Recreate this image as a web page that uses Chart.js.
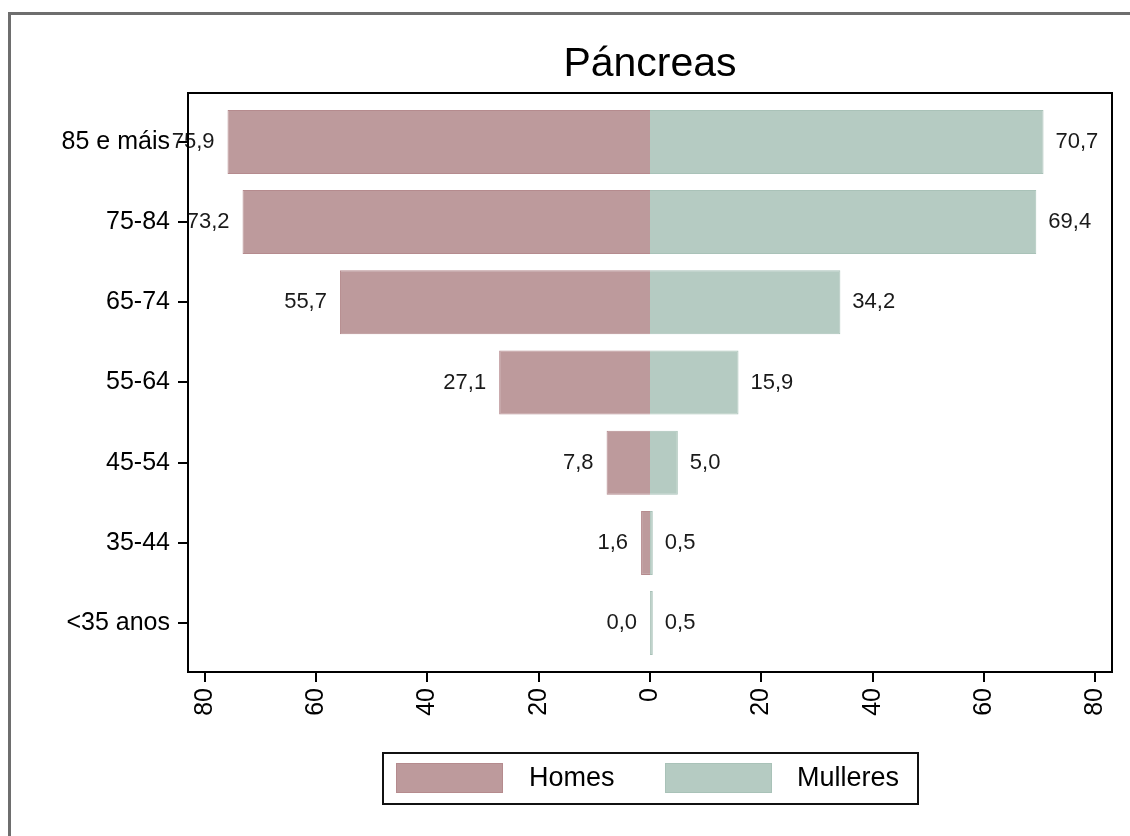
<!DOCTYPE html>
<html>
<head>
<meta charset="utf-8">
<title>Páncreas</title>
<script src="https://cdn.jsdelivr.net/npm/chart.js@4/dist/chart.umd.min.js"></script>
<style>
  html, body { margin: 0; padding: 0; background: #fff; }
  #wrap { width: 1130px; height: 836px; position: relative; }
</style>
</head>
<body>
<div id="wrap"><canvas id="pyramid" width="1130" height="836"></canvas></div>
<script>
// age groups, top to bottom
const groups = ['85 e máis', '75-84', '65-74', '55-64', '45-54', '35-44', '<35 anos'];
const homes = [75.9, 73.2, 55.7, 27.1, 7.8, 1.6, 0.0];
const mulleres = [70.7, 69.4, 34.2, 15.9, 5.0, 0.5, 0.5];
const xTicks = [-80, -60, -40, -20, 0, 20, 40, 60, 80];

const FONT = '"Liberation Sans", Arial, sans-serif';

function fmt(v) {
  return v.toFixed(1).replace('.', ',');
}

// frame, title, plot box, legend
const decor = {
  id: 'decor',
  beforeDraw(chart) {
    const ctx = chart.ctx;
    ctx.save();
    ctx.fillStyle = '#fff';
    ctx.fillRect(0, 0, chart.width, chart.height);
    ctx.strokeStyle = '#6e6e6e';
    ctx.lineWidth = 3;
    ctx.strokeRect(9.5, 13.5, 1200, 900);
    ctx.restore();
  },
  afterDraw(chart) {
    const ctx = chart.ctx;
    const a = chart.chartArea;
    ctx.save();
    ctx.strokeStyle = '#000';
    ctx.lineWidth = 2;
    ctx.strokeRect(a.left, a.top, a.right - a.left, a.bottom - a.top);

    ctx.fillStyle = '#000';
    ctx.font = '41px ' + FONT;
    ctx.textAlign = 'center';
    ctx.textBaseline = 'middle';
    ctx.fillText('Páncreas', (a.left + a.right) / 2, 65);

    // legend
    ctx.lineWidth = 2;
    ctx.strokeStyle = '#111';
    ctx.strokeRect(383, 753, 535, 51);
    const items = [
      { x: 396, tx: 529 },
      { x: 665, tx: 797 }
    ];
    chart.data.datasets.forEach(function (ds, i) {
      const it = items[i];
      ctx.fillStyle = ds.backgroundColor;
      ctx.fillRect(it.x, 763, 107, 30);
      ctx.strokeStyle = ds.borderColor;
      ctx.lineWidth = 1;
      ctx.strokeRect(it.x + 0.5, 763.5, 106, 29);
      ctx.fillStyle = '#000';
      ctx.font = '27px ' + FONT;
      ctx.textAlign = 'left';
      ctx.textBaseline = 'middle';
      ctx.fillText(ds.label, it.tx, 779);
    });
    ctx.restore();
  }
};

// value labels next to the bar ends
const valueLabels = {
  id: 'valueLabels',
  afterDatasetsDraw(chart) {
    const ctx = chart.ctx;
    ctx.save();
    ctx.font = '22px ' + FONT;
    ctx.fillStyle = '#1a1a1a';
    ctx.textBaseline = 'middle';
    chart.data.datasets.forEach(function (ds, di) {
      const meta = chart.getDatasetMeta(di);
      meta.data.forEach(function (bar, i) {
        const v = di === 0 ? homes[i] : mulleres[i];
        if (di === 0) {
          ctx.textAlign = 'right';
          ctx.fillText(fmt(v), bar.x - 13, bar.y);
        } else {
          ctx.textAlign = 'left';
          ctx.fillText(fmt(v), bar.x + 12, bar.y);
        }
      });
    });
    ctx.restore();
  }
};

const ctx = document.getElementById('pyramid').getContext('2d');
new Chart(ctx, {
  type: 'bar',
  data: {
    datasets: [{
      label: 'Homes',
      data: homes.map((v, i) => ({ x: -v, y: i })),
      backgroundColor: '#bd9a9c',
      borderColor: '#b58b8e',
      borderWidth: 1,
      borderSkipped: 'start',
      inflateAmount: 0,
      barThickness: 64
    }, {
      label: 'Mulleres',
      data: mulleres.map((v, i) => ({ x: v, y: i })),
      backgroundColor: '#b5cbc2',
      borderColor: '#a9c2b8',
      borderWidth: 1,
      borderSkipped: 'start',
      inflateAmount: 0,
      barThickness: 64
    }]
  },
  options: {
    indexAxis: 'y',
    responsive: false,
    animation: false,
    layout: { padding: { left: 0, right: 18, top: 93, bottom: 0 } },
    plugins: {
      legend: { display: false },
      title: { display: false },
      tooltip: { enabled: false }
    },
    scales: {
      x: {
        type: 'linear',
        stacked: true,
        min: -83,
        max: 83,
        afterFit: function (s) {
          s.height = 164;
          s.paddingLeft = 0;
          s.paddingRight = 0;
        },
        afterBuildTicks: function (s) { s.ticks = xTicks.map(v => ({ value: v })); },
        border: { display: false },
        // lineWidth 0 so the bars meet at zero without a gap; ticks keep their own width
        grid: { drawOnChartArea: false, tickLength: 10, lineWidth: 0, tickWidth: 2, tickColor: '#000' },
        ticks: {
          minRotation: 90,
          maxRotation: 90,
          padding: 6,
          color: '#000',
          font: { family: FONT, size: 25 },
          callback: v => Math.abs(v)
        }
      },
      y: {
        type: 'linear',
        stacked: true,
        reverse: true,
        offset: false,
        min: -0.61,
        max: 6.61,
        afterFit: function (s) {
          s.width = 188;
          s.paddingTop = 0;
          s.paddingBottom = 0;
        },
        afterBuildTicks: function (s) { s.ticks = groups.map((g, i) => ({ value: i })); },
        border: { display: false },
        grid: { offset: false, drawOnChartArea: false, tickLength: 10, color: '#000', lineWidth: 2 },
        ticks: {
          padding: 8,
          color: '#000',
          font: { family: FONT, size: 25 },
          callback: v => groups[v]
        }
      }
    }
  },
  plugins: [decor, valueLabels]
});
</script>
</body>
</html>
